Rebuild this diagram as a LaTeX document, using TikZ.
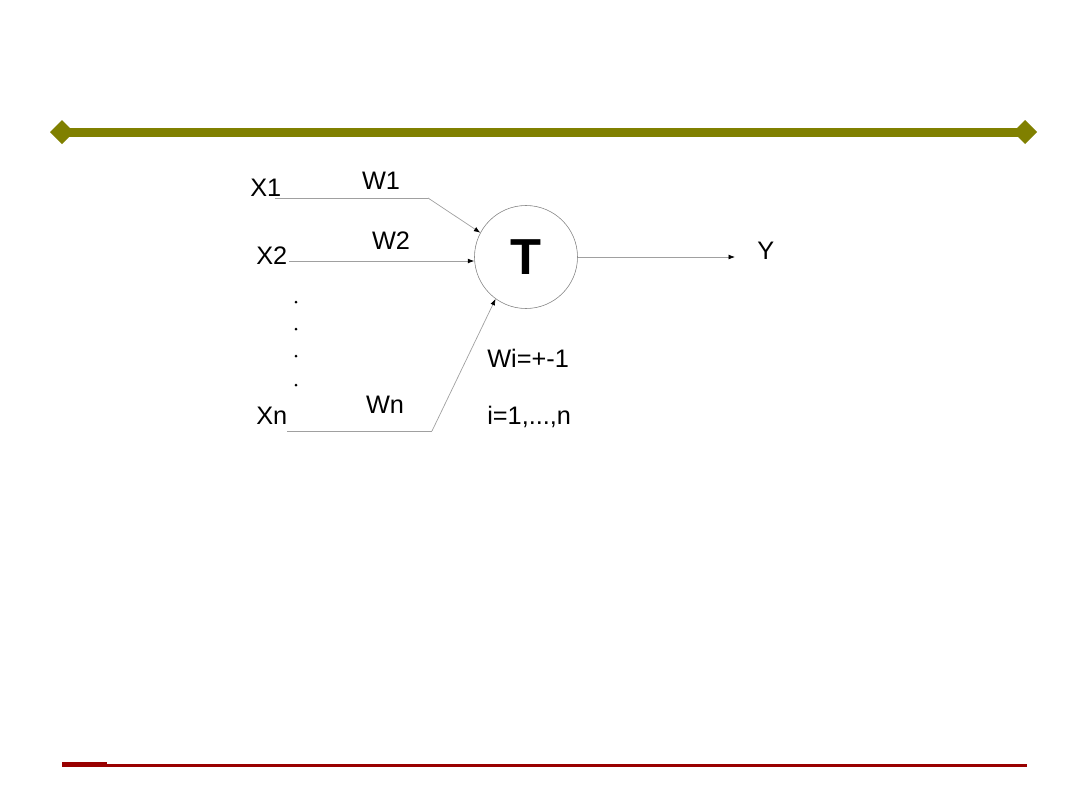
\documentclass[tikz,border=0pt]{standalone}
\usepackage{fontspec}
\setmainfont{Liberation Sans}
\usepackage{tikz}
\usetikzlibrary{arrows.meta}

\definecolor{barolive}{HTML}{808000}
\definecolor{barred}{HTML}{990000}
\definecolor{wire}{HTML}{A0A0A0}

\tikzset{
    lbl/.style={font=\fontsize{18}{21}\selectfont, inner sep=0pt},
    wireline/.style={draw=wire, line width=0.5pt},
    tip/.style={-{Latex[length=1.6mm,width=1.2mm,color=black]}}
}

\begin{document}
\begin{tikzpicture}[x=0.025cm,y=-0.025cm]

% Page
\useasboundingbox (0,0) rectangle (1080,810);

% Top bar with diamonds
\draw[barolive, line width=9*0.025cm] (62,132) -- (1025,132);
\fill[barolive] (62,120) -- (74,132) -- (62,144) -- (50,132) -- cycle;
\fill[barolive] (1025,120) -- (1037,132) -- (1025,144) -- (1013,132) -- cycle;

% Bottom bar
\draw[barred, line width=3*0.025cm] (62,765) -- (1027,765);
\draw[barred, line width=2*0.025cm] (62,763) -- (107,763);

% Threshold unit
\node[circle, draw=gray, minimum size=103*0.025cm, inner sep=0pt,
      font=\bfseries\fontsize{36}{40}\selectfont] (t) at (526,257) {T};

% Inputs
\node[lbl, anchor=base west] (x1) at (250,196) {X1};
\node[lbl, anchor=base west] (x2) at (256,264) {X2};
\node[lbl, anchor=base west] (xn) at (256,424) {Xn};

% Weights
\node[lbl, anchor=base] (w1) at (381,189) {W1};
\node[lbl, anchor=base] (w2) at (391,249) {W2};
\node[lbl, anchor=base] (wn) at (385,413) {Wn};

% Dots
\foreach \yy in {302,329,356,385}
    \fill (296,\yy) circle (1.5);

% Wires
\coordinate (s1) at (275,198);
\coordinate (b1) at (428,198);
\coordinate (s2) at (289,261);
\coordinate (sn) at (287,431);
\coordinate (bn) at (432,431);

\draw[wireline] (s1) -- (b1);
\draw[wireline, tip] (b1) -- (t.152);
\draw[wireline, tip] (s2) -- (s2 -| t.west);
\draw[wireline] (sn) -- (bn);
\draw[wireline, tip] (bn) -- (t.234);

% Output
\node[lbl, anchor=base west] (y) at (757,259) {Y};
\draw[wireline, tip] (t.east) -- (735,257);

% Notes
\node[lbl, anchor=base west] (wi) at (487,367) {Wi=+-1};
\node[lbl, anchor=base west] (ii) at (487,424) {i=1,...,n};

\end{tikzpicture}
\end{document}
